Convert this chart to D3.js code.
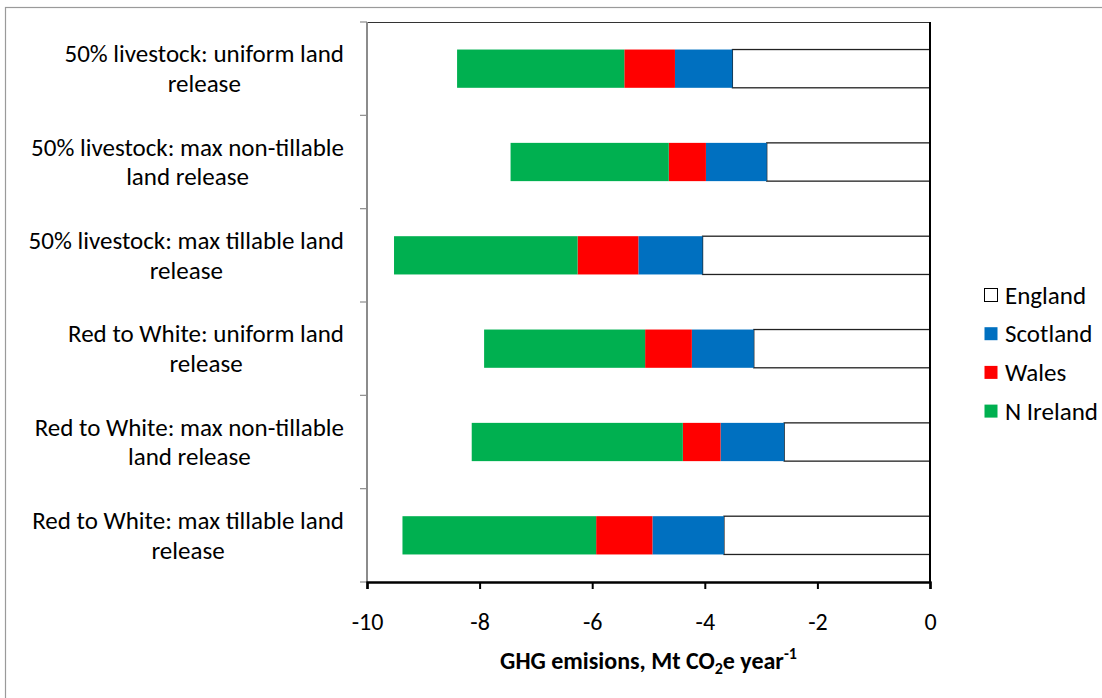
<!DOCTYPE html>
<html>
<head>
<meta charset="utf-8">
<script src="https://cdn.jsdelivr.net/npm/d3@7"></script>
<style>
  html, body { margin: 0; padding: 0; background: #fff; }
  svg { display: block; }
  text { font-family: Carlito, Calibri, Lato, "Open Sans", sans-serif; fill: #000; }
</style>
</head>
<body>
<svg id="chart" width="1102" height="698"></svg>
<script>
// Scenarios, top to bottom, with their wrapped label lines
const scenarios = [
  "50% livestock: uniform land release",
  "50% livestock: max non-tillable land release",
  "50% livestock: max tillable land release",
  "Red to White: uniform land release",
  "Red to White: max non-tillable land release",
  "Red to White: max tillable land release"
];
const scenarioLines = [
  ["50% livestock: uniform land", "release"],
  ["50% livestock: max non-tillable", "land release"],
  ["50% livestock: max tillable land", "release"],
  ["Red to White: uniform land", "release"],
  ["Red to White: max non-tillable", "land release"],
  ["Red to White: max tillable land", "release"]
];

// GHG emission change per nation (Mt CO2e per year)
const nations = ["England", "Scotland", "Wales", "N Ireland"];
const england  = [-3.51, -2.90, -4.04, -3.13, -2.59, -3.66];
const scotland = [-1.02, -1.08, -1.14, -1.10, -1.13, -1.27];
const wales    = [-0.90, -0.66, -1.08, -0.83, -0.67, -1.00];
const nIreland = [-2.97, -2.81, -3.26, -2.86, -3.75, -3.44];

const xTicks = [-10, -8, -6, -4, -2, 0];
const colors = ["#ffffff", "#0070C0", "#FF0000", "#00B050"];

const rows = scenarios.map((s, i) => ({
  scenario: s,
  "England": england[i],
  "Scotland": scotland[i],
  "Wales": wales[i],
  "N Ireland": nIreland[i]
}));

const svg = d3.select("#chart");

// Chart frame
svg.append("rect")
  .attr("x", 5.5).attr("y", 7.5)
  .attr("width", 1200).attr("height", 800)
  .attr("fill", "none").attr("stroke", "#9a9a9a").attr("stroke-width", 1.2);

const plot = { left: 367, right: 930, top: 22, bottom: 582 };

const x = d3.scaleLinear().domain([-10, 0]).range([plot.left, plot.right]);
const y = d3.scaleBand().domain(scenarios)
  .range([plot.top, plot.bottom])
  .paddingInner(0.59).paddingOuter(0.295);

const stack = d3.stack().keys(nations).offset(d3.stackOffsetDiverging);
const series = stack(rows);

const color = d3.scaleOrdinal().domain(nations).range(colors);

// Plot area top edge
svg.append("line")
  .attr("x1", plot.left).attr("x2", plot.right)
  .attr("y1", plot.top + 0.5).attr("y2", plot.top + 0.5)
  .attr("stroke", "#333").attr("stroke-width", 1);

// Stacked bars
svg.append("g").selectAll("g")
  .data(series)
  .join("g")
  .attr("fill", d => color(d.key))
  .each(function(s) {
    d3.select(this).selectAll("rect")
      .data(s)
      .join("rect")
      .attr("x", d => x(d[0]))
      .attr("width", d => x(d[1]) - x(d[0]))
      .attr("y", d => y(d.data.scenario))
      .attr("height", y.bandwidth())
      .attr("stroke", s.key === "England" ? "#222" : "none")
      .attr("stroke-width", s.key === "England" ? 1.3 : 0);
  });

// Vertical category axis (grey) with ticks at band boundaries
const boundaries = d3.range(scenarios.length + 1).map(i => plot.top + i * y.step());
const yAxisG = svg.append("g");
yAxisG.selectAll("line.tick")
  .data(boundaries)
  .join("line")
  .attr("class", "tick")
  .attr("x1", plot.left - 7).attr("x2", plot.left)
  .attr("y1", d => d).attr("y2", d => d)
  .attr("stroke", "#8c8c8c").attr("stroke-width", 1.2);
yAxisG.append("line")
  .attr("x1", plot.left).attr("x2", plot.left)
  .attr("y1", plot.top).attr("y2", plot.bottom)
  .attr("stroke", "#8c8c8c").attr("stroke-width", 2);

// Zero line on the right
svg.append("line")
  .attr("x1", plot.right).attr("x2", plot.right)
  .attr("y1", plot.top).attr("y2", plot.bottom)
  .attr("stroke", "#000").attr("stroke-width", 2);

// Value axis
const xAxis = d3.axisBottom(x).tickValues(xTicks).tickSize(7).tickPadding(24)
  .tickFormat(d => d === 0 ? "0" : d3.format("d")(d).replace("−", "-"));
const xg = svg.append("g")
  .attr("transform", `translate(0,${plot.bottom})`)
  .call(xAxis);
xg.select(".domain").attr("stroke", "#000").attr("stroke-width", 2.4);
xg.selectAll(".tick line").attr("stroke", "#000").attr("stroke-width", 2);
xg.selectAll(".tick text")
  .attr("font-size", 24)
  .attr("font-family", "Carlito, Calibri, Lato, sans-serif")
  .attr("fill", "#000");

// Category labels: each block of wrapped lines is centred and sits right of the axis gap
const labelRight = 344;
const labelG = svg.append("g");
scenarios.forEach((s, i) => {
  const cy = y(s) + y.bandwidth() / 2;
  const lines = scenarioLines[i];
  const g = labelG.append("g");
  const texts = lines.map((ln, j) =>
    g.append("text")
      .attr("font-size", 25)
      .attr("text-anchor", "middle")
      .attr("y", cy + (j - (lines.length - 1) / 2) * 29.5 + 8.5)
      .text(ln));
  const maxW = d3.max(texts, t => t.node().getComputedTextLength());
  texts.forEach(t => t.attr("x", labelRight - maxW / 2));
});

// Axis title with subscript and superscript
const title = svg.append("text")
  .attr("x", (plot.left + plot.right) / 2)
  .attr("y", 669)
  .attr("text-anchor", "middle")
  .attr("font-size", 24)
  .attr("font-weight", "bold");
title.append("tspan").text("GHG emisions, Mt CO");
title.append("tspan").attr("font-size", 16).attr("dy", 5).text("2");
title.append("tspan").attr("dy", -5).text("e year");
title.append("tspan").attr("font-size", 16).attr("dy", -10).text("-1");

// Legend
const legend = svg.append("g");
nations.forEach((n, i) => {
  const ly = 295 + i * 38.7;
  legend.append("rect")
    .attr("x", 984.5).attr("y", ly - 6.5)
    .attr("width", 13).attr("height", 13)
    .attr("fill", color(n))
    .attr("stroke", n === "England" ? "#000" : "none")
    .attr("stroke-width", 1);
  legend.append("text")
    .attr("x", 1005).attr("y", ly + 8.5)
    .attr("font-size", 25)
    .text(n);
});
</script>
</body>
</html>
